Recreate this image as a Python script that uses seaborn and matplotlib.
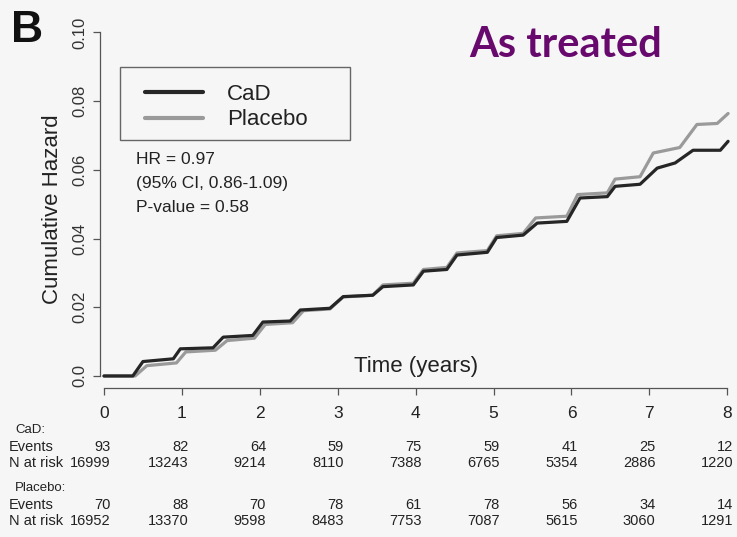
import numpy as np
import pandas as pd
import matplotlib
matplotlib.use("Agg")
import matplotlib.pyplot as plt
import matplotlib.transforms as mtransforms
from matplotlib.patches import Rectangle
from matplotlib.lines import Line2D
import seaborn as sns

# ---- data ----
time_cad = [0, 0.37, 0.50, 0.89, 0.98, 1.40, 1.53, 1.91, 2.04, 2.39, 2.52, 2.90, 3.07,
            3.45, 3.58, 3.97, 4.10, 4.40, 4.53, 4.92, 5.04, 5.38, 5.56, 5.94, 6.11,
            6.46, 6.56, 6.88, 7.10, 7.33, 7.56, 7.91, 8.01]
haz_cad = [0, 0, 0.0042, 0.0050, 0.0079, 0.0082, 0.0113, 0.0118, 0.0157, 0.0160, 0.0192,
           0.0197, 0.0231, 0.0235, 0.0260, 0.0265, 0.0305, 0.0310, 0.0352, 0.0360, 0.0403,
           0.0410, 0.0445, 0.0450, 0.0518, 0.0522, 0.0552, 0.0558, 0.0605, 0.0620, 0.0657,
           0.0657, 0.0683]
time_pla = [0, 0.40, 0.55, 0.93, 1.05, 1.43, 1.58, 1.93, 2.07, 2.42, 2.56, 2.90, 3.07,
            3.45, 3.58, 3.97, 4.10, 4.40, 4.53, 4.92, 5.04, 5.38, 5.54, 5.94, 6.08,
            6.46, 6.56, 6.88, 7.05, 7.39, 7.61, 7.87, 8.01]
haz_pla = [0, 0, 0.0030, 0.0038, 0.0070, 0.0075, 0.0103, 0.0110, 0.0150, 0.0155, 0.0190,
           0.0195, 0.0230, 0.0235, 0.0265, 0.0270, 0.0310, 0.0316, 0.0358, 0.0365, 0.0408,
           0.0415, 0.0460, 0.0465, 0.0528, 0.0533, 0.0573, 0.0580, 0.0649, 0.0665, 0.0732,
           0.0735, 0.0764]

groups = ["CaD", "Placebo"]
risk_times = [0, 1, 2, 3, 4, 5, 6, 7, 8]
events_cad = [93, 82, 64, 59, 75, 59, 41, 25, 12]
risk_cad = [16999, 13243, 9214, 8110, 7388, 6765, 5354, 2886, 1220]
events_pla = [70, 88, 70, 78, 61, 78, 56, 34, 14]
risk_pla = [16952, 13370, 9598, 8483, 7753, 7087, 5615, 3060, 1291]
y_ticks = [0.0, 0.02, 0.04, 0.06, 0.08, 0.10]
y_ticklabels = ["0.0", "0.02", "0.04", "0.06", "0.08", "0.10"]
stats_text = ["HR = 0.97", "(95% CI, 0.86-1.09)", "P-value = 0.58"]

df = pd.concat([
    pd.DataFrame({"time": time_cad, "hazard": haz_cad, "group": groups[0]}),
    pd.DataFrame({"time": time_pla, "hazard": haz_pla, "group": groups[1]}),
], ignore_index=True)

# ---- figure ----
sns.set_style("white")
plt.rcParams["font.family"] = ["Liberation Sans", "DejaVu Sans"]
BG = "#f6f6f6"
W, H = 737, 537
fig = plt.figure(figsize=(W / 100, H / 100), dpi=100, facecolor=BG)
ax = fig.add_axes([100 / W, 1 - 388 / H, 632 / W, (388 - 30) / H], facecolor=BG)

colors = {"CaD": "#262626", "Placebo": "#9a9a9a"}
sns.lineplot(data=df, x="time", y="hazard", hue="group", hue_order=[groups[1], groups[0]],
             palette=colors, estimator=None, linewidth=2.3, ax=ax, legend=False)

ax.set_xlim(-0.051, 8.06)
ax.set_ylim(-0.0035, 0.1007)
for s in ["top", "right"]:
    ax.spines[s].set_visible(False)
axcol = "#555555"
ax.spines["left"].set_bounds(0, 0.10)
ax.spines["bottom"].set_bounds(0, 8)
for s in ["left", "bottom"]:
    ax.spines[s].set_color(axcol)
    ax.spines[s].set_linewidth(0.9)
ax.set_xticks(risk_times)
ax.set_xticklabels([str(t) for t in risk_times], fontsize=12.5, color="#222222")
ax.set_yticks(y_ticks)
ax.set_yticklabels(y_ticklabels, fontsize=12, rotation=90, va="center", color="#333333")
ax.tick_params(axis="y", left=True, direction="out", length=5, width=0.9, color=axcol, pad=4)
ax.tick_params(axis="x", bottom=True, direction="out", length=5, width=0.9, color=axcol, pad=8)
ax.set_xlabel("")
ax.set_ylabel("Cumulative Hazard", fontsize=16, color="#222222", labelpad=7)

ax.text(4, 0.0029, "Time (years)", ha="center", va="center", fontsize=16, color="#222222")

# legend (box drawn separately for exact size)
fig.patches.append(Rectangle((120 / W, 1 - 140 / H), 230 / W, 73 / H,
                             transform=fig.transFigure, facecolor="none",
                             edgecolor="#666666", linewidth=1.0))
handles = [Line2D([], [], color=colors[g], lw=3) for g in groups]
leg = fig.legend(handles, groups, loc="upper left",
                 bbox_to_anchor=(145 / W, 1 - 84 / H),
                 fontsize=16, frameon=False,
                 handlelength=2.6, handletextpad=1.1, labelspacing=0.2,
                 borderpad=0, borderaxespad=0)
for t in leg.get_texts():
    t.set_color("#222222")

for i, s in enumerate(stats_text):
    fig.text(136 / W, 1 - (160 + 23.5 * i) / H, s, fontsize=12.5, color="#222222",
             ha="left", va="center")

fig.text(27 / W, 1 - 30 / H, "B", fontsize=32, fontweight="bold", ha="center",
         va="center", color="#111111")
fig.text(566 / W, 1 - 45 / H, "As treated", fontsize=30, fontweight="bold",
         family=["Lato", "DejaVu Sans"], color="#680a6d", ha="center", va="center")

# risk table
tr = mtransforms.blended_transform_factory(ax.transData, fig.transFigure)
fs = 10.5
tc = "#222222"
rows = [(430, "CaD:", None), (447, "Events", events_cad), (463, "N at risk", risk_cad),
        (488, "Placebo:", None), (505, "Events", events_pla), (521, "N at risk", risk_pla)]
for y, lab, vals in rows:
    x0 = 15 if vals is None else 9
    fig.text(x0 / W, 1 - y / H, lab, fontsize=9.5 if vals is None else fs, color=tc,
             ha="left", va="center")
    if vals is not None:
        for t, v in zip(risk_times, vals):
            ax.text(t + 0.08, 1 - y / H, str(v), transform=tr, fontsize=fs, color=tc,
                    ha="right", va="center")

fig.savefig("out.png", dpi=100, facecolor=BG)
